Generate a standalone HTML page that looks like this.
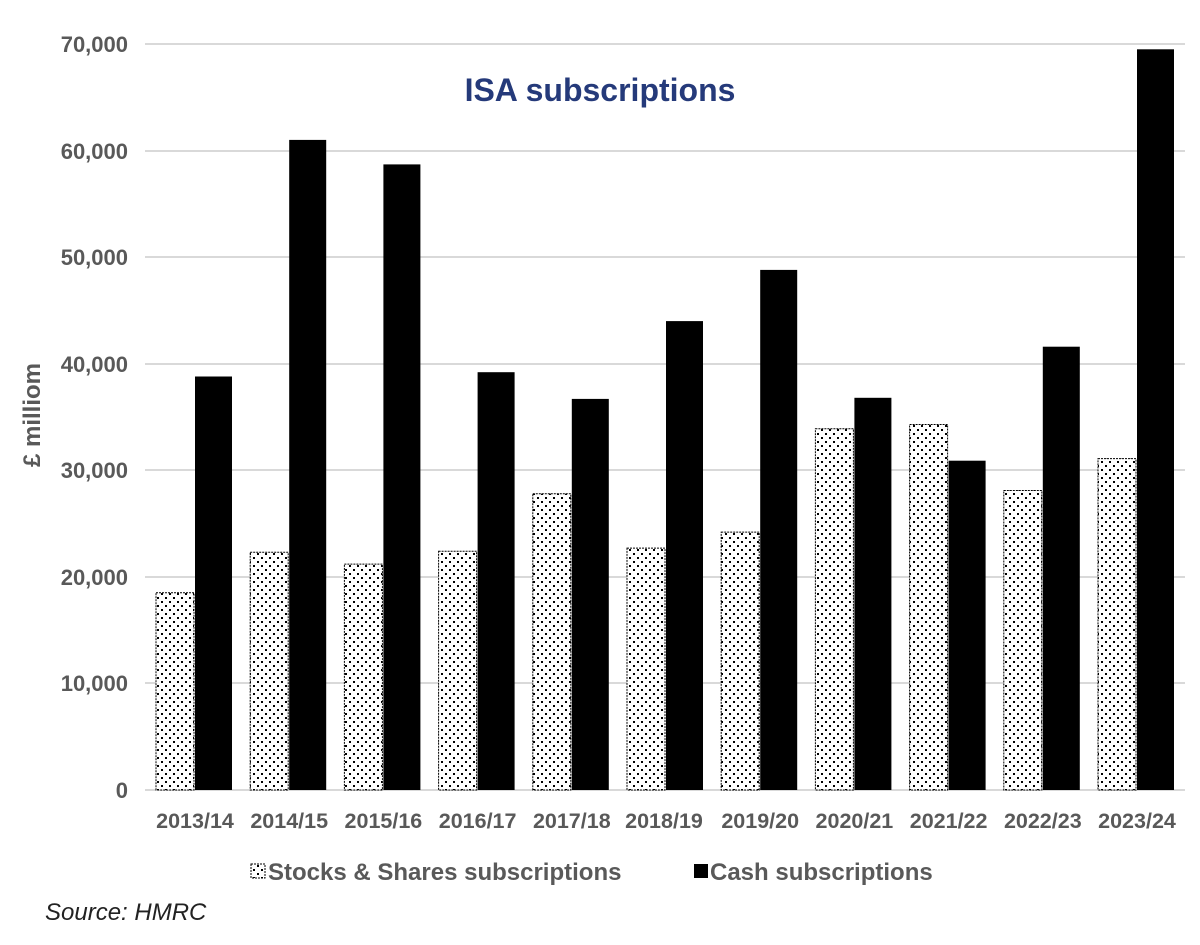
<!DOCTYPE html>
<html><head><meta charset="utf-8"><style>body{margin:0;background:#fff}svg{display:block}</style></head><body>
<svg width="1200" height="945" xmlns="http://www.w3.org/2000/svg" font-family="Liberation Sans, sans-serif">
<defs>
<pattern id="dots" width="8" height="8" patternUnits="userSpaceOnUse">
<rect width="8" height="8" fill="#fff"/>
<rect x="1" y="1" width="2" height="2" fill="#000"/>
<rect x="5" y="5" width="2" height="2" fill="#000"/>
</pattern>
</defs>
<g stroke="#d9d9d9" stroke-width="2">
<line x1="145" x2="1185" y1="44" y2="44"/><line x1="145" x2="1185" y1="151" y2="151"/>
<line x1="145" x2="1185" y1="257" y2="257"/><line x1="145" x2="1185" y1="364" y2="364"/>
<line x1="145" x2="1185" y1="470" y2="470"/><line x1="145" x2="1185" y1="577" y2="577"/>
<line x1="145" x2="1185" y1="683" y2="683"/><line x1="145" x2="1185" y1="790" y2="790"/>
</g>
<g font-size="22" font-weight="bold" fill="#595959" text-anchor="end">
<text x="128" y="52">70,000</text><text x="128" y="159">60,000</text><text x="128" y="265">50,000</text>
<text x="128" y="372">40,000</text><text x="128" y="478">30,000</text><text x="128" y="585">20,000</text>
<text x="128" y="691">10,000</text><text x="128" y="798">0</text>
</g>
<text transform="translate(40,415) rotate(-90)" font-size="24" font-weight="bold" fill="#595959" text-anchor="middle">£ milliom</text>
<text x="600" y="101" font-size="32" font-weight="bold" fill="#253a7a" text-anchor="middle">ISA subscriptions</text>
<g stroke="#000" stroke-width="1" stroke-dasharray="2,1" fill="url(#dots)">
<rect x="156" y="592.8" width="38" height="197.2"/>
<rect x="250.2" y="552.3" width="38" height="237.7"/>
<rect x="344.4" y="564.1" width="38" height="225.9"/>
<rect x="438.6" y="551.3" width="38" height="238.7"/>
<rect x="532.8" y="493.7" width="38" height="296.3"/>
<rect x="627" y="548.1" width="38" height="241.9"/>
<rect x="721.2" y="532.1" width="38" height="257.9"/>
<rect x="815.4" y="428.7" width="38" height="361.3"/>
<rect x="909.6" y="424.5" width="38" height="365.5"/>
<rect x="1003.8" y="490.5" width="38" height="299.5"/>
<rect x="1098" y="458.6" width="38" height="331.4"/>
</g>
<g fill="#000">
<rect x="195" y="376.5" width="37" height="413.5"/>
<rect x="289.2" y="139.9" width="37" height="650.1"/>
<rect x="383.4" y="164.4" width="37" height="625.6"/>
<rect x="477.6" y="372.2" width="37" height="417.8"/>
<rect x="571.8" y="398.9" width="37" height="391.1"/>
<rect x="666" y="321.1" width="37" height="468.9"/>
<rect x="760.2" y="269.9" width="37" height="520.1"/>
<rect x="854.4" y="397.8" width="37" height="392.2"/>
<rect x="948.6" y="460.7" width="37" height="329.3"/>
<rect x="1042.8" y="346.7" width="37" height="443.3"/>
<rect x="1137" y="49.3" width="37" height="740.7"/>
</g>
<g font-size="21.5" font-weight="bold" fill="#595959" text-anchor="middle">
<text x="195" y="828">2013/14</text><text x="289.2" y="828">2014/15</text><text x="383.4" y="828">2015/16</text>
<text x="477.6" y="828">2016/17</text><text x="571.8" y="828">2017/18</text><text x="664" y="828">2018/19</text>
<text x="760.2" y="828">2019/20</text><text x="854.4" y="828">2020/21</text><text x="948.6" y="828">2021/22</text>
<text x="1042.8" y="828">2022/23</text><text x="1137" y="828">2023/24</text>
</g>
<rect x="251" y="864" width="14" height="14" fill="url(#dots)" stroke="#000" stroke-width="1" stroke-dasharray="2,1"/>
<text x="268" y="880" font-size="24" font-weight="bold" fill="#595959">Stocks &amp; Shares subscriptions</text>
<rect x="694" y="864" width="14" height="14" fill="#000"/>
<text x="710" y="880" font-size="24" font-weight="bold" fill="#595959">Cash subscriptions</text>
<text x="45" y="920" font-size="24" font-style="italic" fill="#222">Source: HMRC</text>
</svg>
</body></html>
